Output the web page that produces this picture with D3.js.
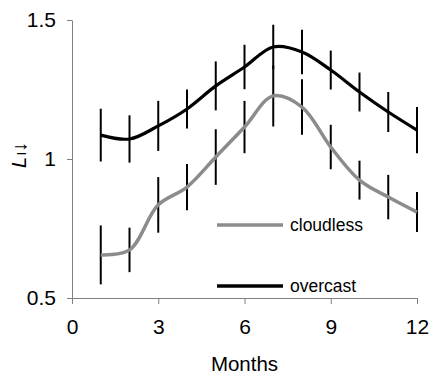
<!DOCTYPE html>
<html>
<head>
<meta charset="utf-8">
<script src="https://cdn.jsdelivr.net/npm/d3@7"></script>
<style>
  body { margin: 0; background: #fff; }
  text { font-family: "Liberation Sans", Arial, sans-serif; fill: #000; }
</style>
</head>
<body>
<svg id="canvas" width="430" height="376"></svg>
<script>
// data
let months = [1, 2, 3, 4, 5, 6, 7, 8, 9, 10, 11, 12]
let overcast = [1.086, 1.072, 1.119, 1.18, 1.263, 1.331, 1.403, 1.385, 1.32, 1.241, 1.169, 1.104]
let overcastErr = [0.095, 0.085, 0.09, 0.07, 0.088, 0.08, 0.08, 0.08, 0.07, 0.07, 0.072, 0.083]
let cloudless = [0.655, 0.673, 0.835, 0.899, 1.007, 1.115, 1.227, 1.187, 1.043, 0.924, 0.863, 0.809]
let cloudlessErr = [0.106, 0.08, 0.1, 0.083, 0.1, 0.094, 0.11, 0.1, 0.08, 0.07, 0.08, 0.072]
let xTicks = [0, 3, 6, 9, 12]
let yTicks = [0.5, 1, 1.5]

let canvas = d3.select('#canvas')

let xScale = d3.scaleLinear().domain([0, 12]).range([72, 417])
let yScale = d3.scaleLinear().domain([0.5, 1.5]).range([298, 20])

// axes
let xAxis = d3.axisBottom(xScale).tickValues(xTicks).tickSize(6).tickSizeOuter(0).tickPadding(15)
let yAxis = d3.axisLeft(yScale).tickValues(yTicks).tickFormat(d3.format('')).tickSize(5).tickSizeOuter(0).tickPadding(11)

let gx = canvas.append('g').attr('transform', 'translate(0,298)').call(xAxis)
let gy = canvas.append('g').attr('transform', 'translate(72,0)').call(yAxis)

canvas.selectAll('.domain, .tick line').attr('stroke', '#808080')
gx.selectAll('text').style('font-size', '21px').attr('fill', '#000')
gy.selectAll('text').style('font-size', '21px').attr('fill', '#000')

// error bars
let series = [
    { vals: cloudless, err: cloudlessErr },
    { vals: overcast, err: overcastErr }
]
series.forEach(s => {
    canvas.append('g').selectAll('line')
        .data(months)
        .enter()
        .append('line')
        .attr('x1', (m) => xScale(m))
        .attr('x2', (m) => xScale(m))
        .attr('y1', (m, i) => yScale(s.vals[i] + s.err[i]))
        .attr('y2', (m, i) => yScale(s.vals[i] - s.err[i]))
        .attr('stroke', '#000')
        .attr('stroke-width', 2)
})

// lines
let lineOf = (vals) => d3.line()
    .x((m) => xScale(m))
    .y((m, i) => yScale(vals[i]))
    .curve(d3.curveCatmullRom.alpha(0.5))(months)

canvas.append('path')
    .attr('d', lineOf(cloudless))
    .attr('fill', 'none')
    .attr('stroke', '#8c8c8c')
    .attr('stroke-width', 3.5)

canvas.append('path')
    .attr('d', lineOf(overcast))
    .attr('fill', 'none')
    .attr('stroke', '#000')
    .attr('stroke-width', 3.2)

// legend
let legend = [
    { name: 'cloudless', color: '#8c8c8c', y: 225 },
    { name: 'overcast', color: '#000', y: 286 }
]
legend.forEach(l => {
    canvas.append('line')
        .attr('x1', 217).attr('x2', 283)
        .attr('y1', l.y).attr('y2', l.y)
        .attr('stroke', l.color)
        .attr('stroke-width', 3.5)
    canvas.append('text')
        .attr('x', 290).attr('y', l.y + 6)
        .style('font-size', '17.5px')
        .text(l.name)
})

// axis titles
canvas.append('text')
    .attr('x', (xScale(0) + xScale(12)) / 2)
    .attr('y', 371)
    .attr('text-anchor', 'middle')
    .style('font-size', '20.5px')
    .text('Months')

let yt = canvas.append('text')
    .attr('transform', 'translate(26,155) rotate(-90)')
    .attr('text-anchor', 'middle')
    .style('font-size', '20px')
yt.append('tspan').style('font-style', 'italic').text('L')
yt.append('tspan').style('font-size', '13px').attr('dx', 2).text('l')
yt.append('tspan').text('↓')
</script>
</body>
</html>
